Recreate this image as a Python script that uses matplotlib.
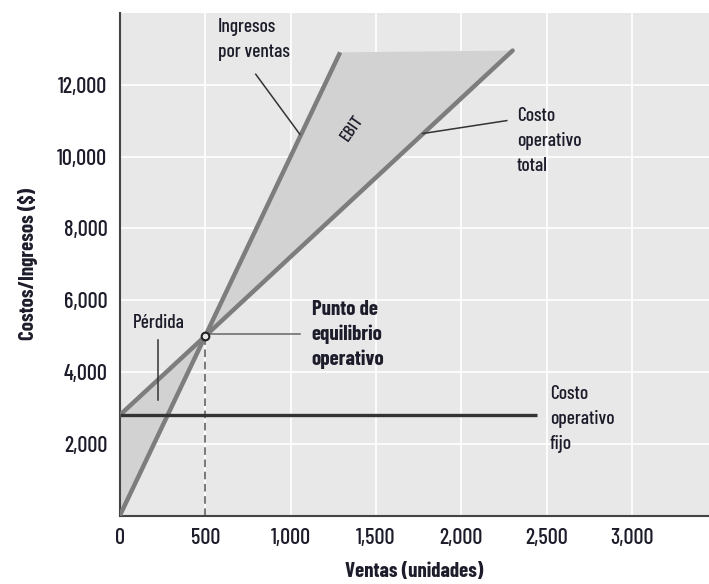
import matplotlib
matplotlib.use("Agg")
import matplotlib.pyplot as plt
from matplotlib.ticker import FuncFormatter

plt.rcParams['font.family'] = ['Barlow Condensed', 'DejaVu Sans']
plt.rcParams['font.weight'] = 'medium'

# datos
ventas_ingresos = [0, 500, 1290]          # unidades
ingresos = [0, 5000, 12900]              # $
ventas_costo = [0, 500, 2300]
costo_total = [2800, 5000, 12950]
ventas_fijo = [0, 2440]
costo_fijo = [2800, 2800]
punto_eq = (500, 5000)

x_ticks = [0, 500, 1000, 1500, 2000, 2500, 3000]
y_ticks = [2000, 4000, 6000, 8000, 10000, 12000]

color_texto = '#1c1c2a'
gris_linea = '#7d7d7d'
gris_relleno = '#d2d2d2'

fig = plt.figure(figsize=(7.09, 5.84), dpi=100)
ax = fig.add_axes([0.169, 0.117, 0.831, 0.861])
ax.set_facecolor('#e8e8e8')

# zona EBIT (entre ingresos y costo total, arriba del punto de equilibrio)
ax.fill([punto_eq[0], ventas_ingresos[2], ventas_costo[2]],
        [punto_eq[1], ingresos[2], costo_total[2]],
        color=gris_relleno, zorder=1, lw=0)
# zona de perdida
ax.fill([ventas_ingresos[0], ventas_costo[0], punto_eq[0]],
        [ingresos[0], costo_total[0], punto_eq[1]],
        color=gris_relleno, zorder=1, lw=0)

ax.plot(ventas_ingresos, ingresos, color=gris_linea, lw=3.2, zorder=3, solid_capstyle='butt')
ax.plot(ventas_costo, costo_total, color=gris_linea, lw=3.2, zorder=3, solid_capstyle='round')
ax.plot(ventas_fijo, costo_fijo, color='#333333', lw=2.4, zorder=4, solid_capstyle='butt')

# linea punteada y punto de equilibrio
ax.plot([punto_eq[0], punto_eq[0]], [0, punto_eq[1]], color='#555555', lw=1.1,
        ls=(0, (5, 3)), zorder=2)
ax.plot(*punto_eq, marker='o', ms=5.5, mfc='#e8e8e8', mec='#222222', mew=1.5, zorder=5)

ax.set_xlim(0, 3450)
ax.set_ylim(0, 14000)
ax.set_xticks(x_ticks)
ax.set_yticks(y_ticks)
fmt = FuncFormatter(lambda v, p: f"{int(v):,}")
ax.xaxis.set_major_formatter(fmt)
ax.yaxis.set_major_formatter(fmt)
ax.tick_params(length=0, labelsize=16, labelcolor=color_texto, pad=9)
ax.grid(True, color='white', lw=1.2)
ax.set_axisbelow(True)
for s in ['top', 'right']:
    ax.spines[s].set_visible(False)
for s in ['left', 'bottom']:
    ax.spines[s].set_color('#444444')
    ax.spines[s].set_linewidth(1.5)

ax.set_xlabel('Ventas (unidades)', fontsize=15, fontweight='bold', color=color_texto, labelpad=10)
ax.set_ylabel('Costos/Ingresos ($)', fontsize=15, fontweight='bold', color=color_texto, labelpad=14)

# anotaciones
ax.text(574, 13850, 'Ingresos\npor ventas', fontsize=14, color=color_texto,
        ha='left', va='top', linespacing=1.45)
ax.plot([796, 1054], [12290, 10620], color='#333333', lw=1.1, zorder=4)
ax.text(1358, 10800, 'EBIT', rotation=55, fontsize=13, color=color_texto,
        ha='center', va='center')
ax.text(2324, 10420, 'Costo\noperativo\ntotal', fontsize=14, color=color_texto,
        ha='left', va='center', linespacing=1.5)
ax.plot([2266, 1774], [11000, 10640], color='#333333', lw=1.1, zorder=4)
ax.text(76, 5370, 'Pérdida', fontsize=14, color=color_texto, ha='left', va='center')
ax.plot([222, 222], [3220, 4900], color='#333333', lw=1.1, zorder=4)
ax.text(1124, 5035, 'Punto de\nequilibrio\noperativo', fontsize=15, fontweight='bold',
        color=color_texto, ha='left', va='center', linespacing=1.35)
ax.plot([527, 1054], [5063, 5063], color='#666666', lw=1.1, zorder=4)
ax.text(2518, 2690, 'Costo\noperativo\nfijo', fontsize=14, color=color_texto,
        ha='left', va='center', linespacing=1.5)

fig.savefig('out.png', dpi=100)
